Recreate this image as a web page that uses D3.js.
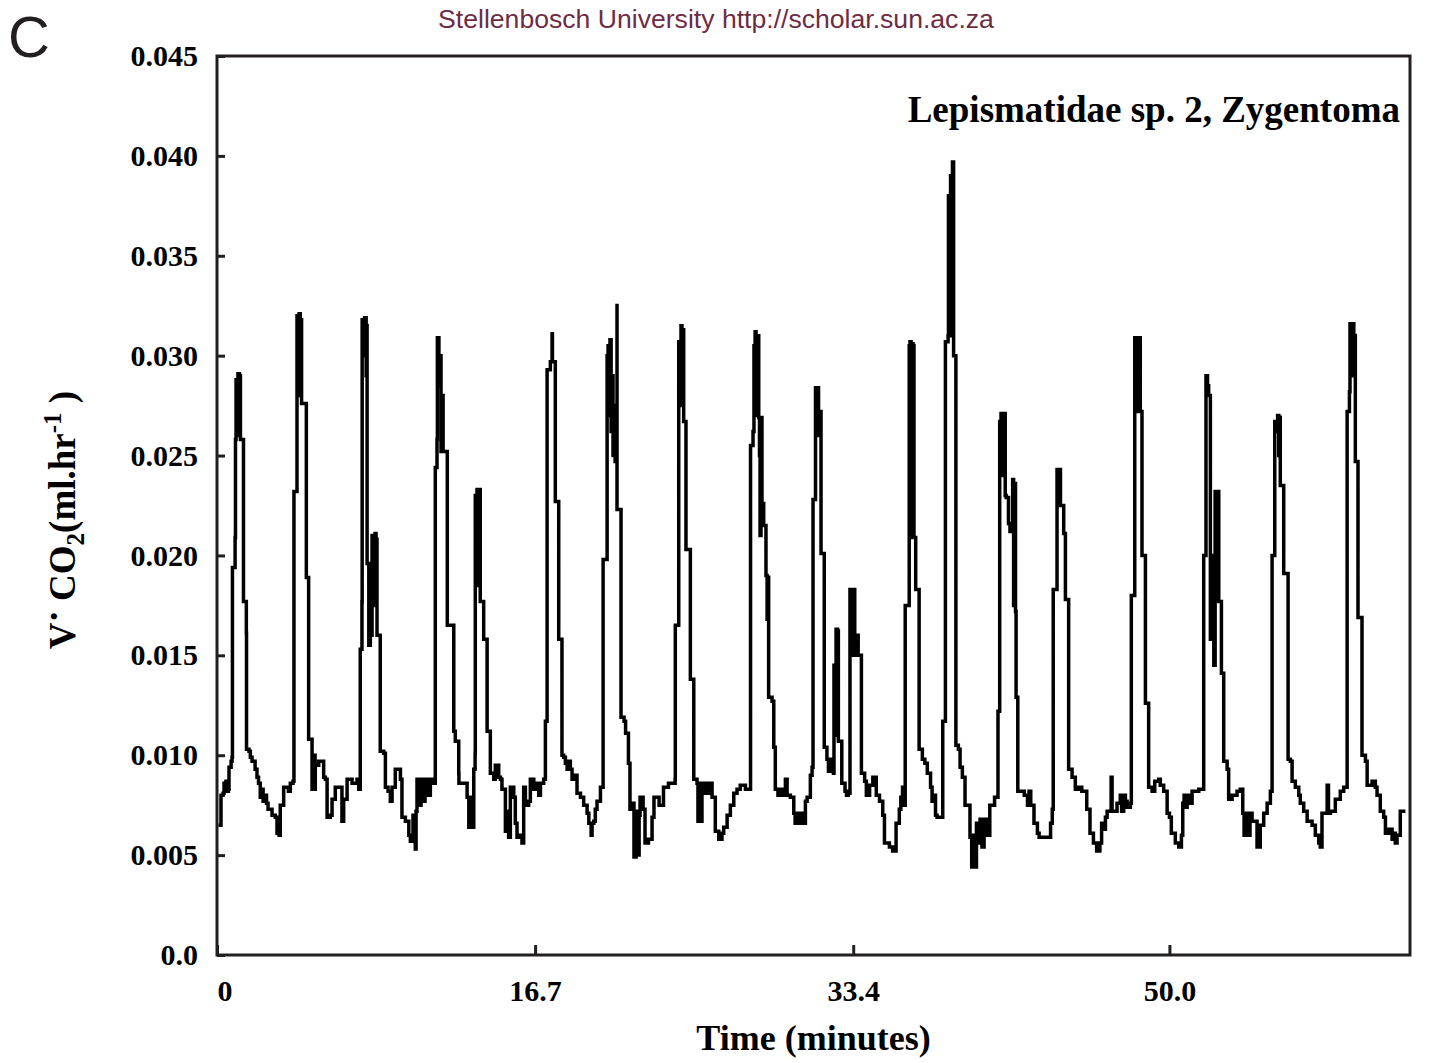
<!DOCTYPE html>
<html>
<head>
<meta charset="utf-8">
<script src="https://d3js.org/d3.v7.min.js"></script>
<style>
  body { margin: 0; background: #fff; }
  svg { display: block; background: #fff; }
  .axis text { font-family: "Liberation Serif", "Times New Roman", serif; font-weight: bold; font-size: 30px; fill: #000; }
  .axis line { stroke: #231f20; stroke-width: 3; }
</style>
</head>
<body>
<svg width="1429" height="1063"></svg>
<script>
// VCO2 trace, [time (minutes), VCO2 (ml/hr)]
const trace = [
  [0.08,0.0065],[0.21,0.0065],[0.21,0.0080],[0.32,0.0081],[0.37,0.0086],[0.47,0.0087],[0.53,0.0082],[0.60,0.0083],[0.63,0.0094],[0.74,0.0097],[0.79,0.0099],[0.81,0.0194],[0.95,0.0209],[0.97,0.0258],[1.00,0.0288],[1.08,0.0260],[1.10,0.0291],[1.18,0.0262],[1.21,0.0290],[1.23,0.0258],[1.37,0.0258],[1.39,0.0177],[1.54,0.0161],[1.55,0.0103],[1.68,0.0102],[1.75,0.0099],[1.84,0.0097],[1.93,0.0097],[2.00,0.0093],[2.10,0.0089],[2.18,0.0086],[2.27,0.0079],[2.36,0.0083],[2.42,0.0077],[2.52,0.0080],[2.60,0.0076],[2.68,0.0073],[2.80,0.0073],[2.89,0.0070],[3.06,0.0069],[3.15,0.0061],[3.26,0.0060],[3.32,0.0075],[3.50,0.0084],[3.68,0.0084],[3.75,0.0082],[3.85,0.0086],[3.99,0.0087],
  [4.03,0.0087],[4.04,0.0232],[4.20,0.0252],[4.20,0.0320],[4.28,0.0285],[4.31,0.0321],[4.37,0.0280],[4.41,0.0318],[4.44,0.0276],[4.69,0.0275],[4.69,0.0189],[4.81,0.0184],[4.81,0.0108],[4.99,0.0105],[4.99,0.0083],[5.07,0.0100],[5.15,0.0083],[5.16,0.0095],[5.34,0.0097],[5.51,0.0097],[5.60,0.0089],[5.69,0.0088],[5.78,0.0069],[5.95,0.0070],[6.04,0.0078],[6.21,0.0084],[6.30,0.0084],[6.56,0.0067],[6.65,0.0078],[6.83,0.0088],[7.09,0.0086],[7.35,0.0088],[7.44,0.0083],[7.52,0.0083],
  [7.52,0.0153],[7.61,0.0177],[7.62,0.0318],[7.70,0.0300],[7.75,0.0319],[7.83,0.0290],[7.88,0.0316],[7.88,0.0196],[7.97,0.0185],[7.97,0.0155],[8.05,0.0190],[8.05,0.0160],[8.14,0.0210],[8.19,0.0175],[8.30,0.0211],[8.35,0.0178],[8.40,0.0209],[8.40,0.0160],[8.57,0.0148],[8.57,0.0102],[8.75,0.0101],[8.84,0.0084],[8.98,0.0082],[9.10,0.0077],[9.19,0.0084],[9.36,0.0093],[9.54,0.0093],[9.63,0.0088],[9.71,0.0069],[9.89,0.0067],[10.07,0.0060],[10.15,0.0057],[10.29,0.0070],[10.41,0.0053],[10.45,0.0072],[10.50,0.0088],[10.61,0.0075],[10.71,0.0088],[10.82,0.0077],[10.92,0.0088],[11.03,0.0080],[11.20,0.0088],[11.34,0.0086],[11.46,0.0088],
  [11.46,0.0244],[11.55,0.0258],[11.57,0.0309],[11.65,0.0285],[11.71,0.0300],[11.76,0.0252],[11.81,0.0280],[11.87,0.0252],[12.09,0.0223],[12.09,0.0165],[12.43,0.0155],[12.43,0.0112],[12.51,0.0107],[12.69,0.0091],[12.70,0.0086],[12.96,0.0086],[13.13,0.0086],[13.13,0.0079],[13.22,0.0064],[13.30,0.0079],[13.39,0.0064],[13.48,0.0093],[13.55,0.0101],
  [13.56,0.0230],[13.65,0.0233],[13.70,0.0185],[13.76,0.0233],[13.82,0.0177],[14.00,0.0175],[14.00,0.0158],[14.18,0.0155],[14.18,0.0112],[14.35,0.0107],[14.35,0.0091],[14.53,0.0088],[14.61,0.0095],[14.79,0.0089],[14.88,0.0088],[14.96,0.0083],[15.14,0.0083],[15.14,0.0062],[15.23,0.0072],[15.31,0.0059],[15.40,0.0084],[15.58,0.0079],[15.66,0.0066],[15.75,0.0059],[15.93,0.0060],[16.01,0.0056],[16.10,0.0084],[16.19,0.0075],[16.36,0.0077],[16.45,0.0088],[16.63,0.0083],[16.71,0.0086],[16.89,0.0080],[16.98,0.0086],[17.15,0.0088],
  [17.24,0.0117],[17.33,0.0125],[17.33,0.0293],[17.50,0.0297],[17.59,0.0311],[17.61,0.0297],[17.68,0.0297],[17.76,0.0295],[17.76,0.0227],[17.94,0.0222],[17.94,0.0158],[18.11,0.0149],[18.11,0.0100],[18.20,0.0099],[18.29,0.0096],[18.38,0.0093],[18.43,0.0097],[18.55,0.0093],[18.64,0.0088],[18.81,0.0090],[18.90,0.0081],[19.08,0.0079],[19.25,0.0075],[19.43,0.0071],[19.52,0.0066],[19.60,0.0066],[19.64,0.0060],[19.69,0.0066],[19.78,0.0067],[19.86,0.0073],[19.95,0.0077],[20.13,0.0084],[20.27,0.0086],
  [20.27,0.0198],[20.48,0.0217],[20.48,0.0300],[20.53,0.0305],[20.58,0.0270],[20.63,0.0308],[20.69,0.0262],[20.74,0.0290],[20.79,0.0250],[20.84,0.0275],[20.90,0.0247],[21.00,0.0326],[21.00,0.0223],[21.21,0.0201],[21.21,0.0119],[21.37,0.0117],[21.45,0.0111],[21.60,0.0096],[21.68,0.0073],[21.84,0.0076],[21.89,0.0049],[22.00,0.0072],[22.05,0.0050],[22.16,0.0070],[22.21,0.0079],[22.37,0.0073],[22.47,0.0056],[22.65,0.0058],[22.84,0.0069],[22.94,0.0079],[23.10,0.0079],[23.21,0.0075],[23.44,0.0084],[23.70,0.0086],[23.97,0.0086],[24.05,0.0088],
  [24.06,0.0165],[24.24,0.0192],[24.24,0.0307],[24.31,0.0290],[24.36,0.0315],[24.41,0.0275],[24.47,0.0313],[24.50,0.0267],[24.62,0.0257],[24.62,0.0203],[24.85,0.0198],[24.85,0.0138],[25.03,0.0131],[25.03,0.0088],[25.20,0.0086],[25.25,0.0067],[25.33,0.0086],[25.37,0.0067],[25.46,0.0086],[25.55,0.0081],[25.73,0.0086],[25.78,0.0081],[25.90,0.0086],[25.99,0.0079],[26.16,0.0062],[26.34,0.0058],[26.51,0.0061],[26.60,0.0064],[26.78,0.0070],[26.95,0.0075],[27.13,0.0081],[27.30,0.0083],[27.47,0.0085],[27.62,0.0085],[27.74,0.0083],[28.00,0.0083],
  [28.01,0.0255],[28.14,0.0262],[28.19,0.0305],[28.25,0.0312],[28.30,0.0270],[28.35,0.0310],[28.44,0.0269],[28.48,0.0250],[28.51,0.0210],[28.56,0.0269],[28.61,0.0226],[28.70,0.0215],[28.82,0.0211],[28.82,0.0190],[28.88,0.0168],[28.96,0.0190],[28.96,0.0129],[29.14,0.0127],[29.23,0.0104],[29.31,0.0083],[29.45,0.0080],[29.56,0.0083],[29.66,0.0080],[29.84,0.0088],[29.93,0.0080],[30.10,0.0079],[30.28,0.0071],[30.35,0.0066],[30.45,0.0071],[30.56,0.0066],[30.66,0.0071],[30.80,0.0066],[30.89,0.0077],[30.98,0.0079],[31.15,0.0090],[31.24,0.0094],
  [31.29,0.0096],[31.29,0.0228],[31.42,0.0247],[31.42,0.0284],[31.50,0.0272],[31.55,0.0284],[31.58,0.0260],[31.66,0.0272],[31.71,0.0249],[31.71,0.0201],[31.88,0.0186],[31.88,0.0104],[32.02,0.0098],[32.10,0.0092],[32.18,0.0098],[32.28,0.0092],[32.36,0.0091],[32.39,0.0145],[32.45,0.0110],[32.50,0.0163],[32.58,0.0110],[32.62,0.0163],[32.62,0.0107],[32.80,0.0107],[32.80,0.0086],[32.97,0.0082],[33.05,0.0080],[33.14,0.0081],[33.23,0.0183],[33.31,0.0150],[33.39,0.0183],[33.48,0.0150],[33.55,0.0160],[33.66,0.0150],[33.83,0.0142],[33.83,0.0091],[34.00,0.0087],[34.09,0.0080],[34.26,0.0085],[34.43,0.0089],[34.61,0.0080],[34.78,0.0077],[34.95,0.0070],[35.04,0.0056],[35.30,0.0054],[35.47,0.0052],[35.65,0.0052],[35.65,0.0066],[35.82,0.0073],[35.90,0.0079],[35.99,0.0084],
  [36.04,0.0075],[36.13,0.0080],[36.13,0.0175],[36.34,0.0202],[36.34,0.0305],[36.38,0.0307],[36.44,0.0209],[36.49,0.0306],[36.54,0.0209],[36.59,0.0306],[36.59,0.0209],[36.68,0.0198],[36.68,0.0183],[36.86,0.0171],[36.86,0.0103],[37.03,0.0098],[37.16,0.0096],[37.29,0.0091],[37.46,0.0084],[37.54,0.0077],[37.68,0.0080],[37.72,0.0070],[37.80,0.0069],[38.06,0.0069],
  [38.10,0.0117],[38.24,0.0136],[38.24,0.0307],[38.38,0.0310],[38.40,0.0380],[38.48,0.0310],[38.51,0.0390],[38.59,0.0340],[38.61,0.0397],[38.67,0.0397],[38.67,0.0300],[38.79,0.0228],[38.79,0.0105],[38.92,0.0103],[39.01,0.0094],[39.13,0.0089],[39.27,0.0075],[39.53,0.0059],[39.62,0.0044],[39.69,0.0060],[39.77,0.0044],[39.87,0.0066],[39.96,0.0056],[40.06,0.0068],[40.16,0.0054],[40.27,0.0068],[40.39,0.0060],[40.57,0.0075],[40.82,0.0079],[41.00,0.0079],
  [41.00,0.0122],[41.09,0.0138],[41.09,0.0267],[41.16,0.0271],[41.21,0.0240],[41.27,0.0271],[41.38,0.0230],[41.43,0.0229],[41.55,0.0216],[41.63,0.0212],[41.69,0.0212],[41.77,0.0238],[41.82,0.0175],[41.87,0.0236],[41.92,0.0172],[41.95,0.0129],[42.04,0.0105],[42.04,0.0082],[42.38,0.0080],[42.55,0.0075],[42.63,0.0082],[42.72,0.0075],[42.89,0.0066],[43.07,0.0061],[43.16,0.0059],[43.42,0.0059],[43.76,0.0066],[43.85,0.0073],[43.90,0.0073],
  [43.90,0.0183],[44.10,0.0202],[44.10,0.0243],[44.18,0.0225],[44.23,0.0243],[44.28,0.0225],[44.36,0.0225],[44.45,0.0211],[44.54,0.0178],[44.71,0.0171],[44.71,0.0093],[44.89,0.0089],[45.06,0.0083],[45.23,0.0084],[45.40,0.0082],[45.66,0.0073],[45.83,0.0061],[46.01,0.0056],[46.18,0.0052],[46.35,0.0056],[46.44,0.0066],
  [46.46,0.0063],[46.64,0.0069],[46.73,0.0072],[46.90,0.0072],[46.94,0.0089],[46.99,0.0072],[47.08,0.0072],[47.25,0.0076],[47.42,0.0080],[47.49,0.0072],[47.60,0.0080],[47.69,0.0077],[47.78,0.0074],[47.95,0.0076],[48.00,0.0076],
  [48.00,0.0180],[48.18,0.0202],[48.18,0.0309],[48.25,0.0290],[48.30,0.0309],[48.35,0.0272],[48.41,0.0309],[48.47,0.0272],[48.56,0.0261],[48.56,0.0200],[48.74,0.0195],[48.74,0.0126],[48.91,0.0125],[48.91,0.0084],[49.09,0.0082],[49.23,0.0087],[49.44,0.0088],[49.52,0.0085],[49.70,0.0082],[49.88,0.0071],[50.00,0.0069],[50.10,0.0061],[50.31,0.0056],[50.49,0.0054],[50.63,0.0060],[50.70,0.0076],[50.77,0.0080],[50.85,0.0074],[50.93,0.0080],[51.01,0.0080],[51.08,0.0076],[51.19,0.0082],[51.36,0.0082],[51.54,0.0083],[51.80,0.0083],
  [51.80,0.0200],[51.92,0.0217],[51.92,0.0290],[52.00,0.0285],[52.06,0.0280],[52.15,0.0279],[52.15,0.0158],[52.21,0.0200],[52.26,0.0158],[52.33,0.0180],[52.33,0.0145],[52.40,0.0232],[52.45,0.0178],[52.50,0.0232],[52.59,0.0177],[52.73,0.0174],[52.73,0.0141],[52.85,0.0135],[52.85,0.0097],[53.03,0.0093],[53.11,0.0078],[53.29,0.0080],[53.55,0.0082],[53.72,0.0083],[53.85,0.0071],[53.92,0.0060],[54.02,0.0071],[54.13,0.0060],[54.23,0.0071],[54.34,0.0067],[54.60,0.0054],[54.77,0.0065],[54.95,0.0071],[55.13,0.0076],[55.30,0.0082],[55.39,0.0082],
  [55.39,0.0200],[55.53,0.0213],[55.53,0.0267],[55.60,0.0262],[55.68,0.0270],[55.74,0.0250],[55.82,0.0270],[55.82,0.0235],[56.00,0.0232],[56.00,0.0191],[56.23,0.0184],[56.23,0.0098],[56.35,0.0097],[56.44,0.0087],[56.61,0.0084],[56.79,0.0080],[56.87,0.0076],[57.05,0.0072],[57.23,0.0067],[57.49,0.0065],[57.66,0.0060],[57.84,0.0056],[57.92,0.0054],[58.01,0.0071],[58.19,0.0071],[58.28,0.0085],[58.35,0.0071],[58.45,0.0072],[58.71,0.0078],[58.97,0.0082],[59.15,0.0084],[59.33,0.0088],
  [59.33,0.0272],[59.45,0.0282],[59.48,0.0316],[59.56,0.0290],[59.61,0.0316],[59.68,0.0300],[59.76,0.0311],[59.76,0.0247],[59.90,0.0241],[59.90,0.0169],[60.11,0.0161],[60.11,0.0100],[60.29,0.0097],[60.38,0.0085],[60.64,0.0087],[60.81,0.0084],[60.90,0.0080],[61.07,0.0072],[61.25,0.0069],[61.34,0.0061],[61.51,0.0063],[61.69,0.0058],[61.78,0.0061],[61.86,0.0056],[61.95,0.0060],[62.12,0.0072],[62.39,0.0072]
];

const yTicks = [0, 0.005, 0.010, 0.015, 0.020, 0.025, 0.030, 0.035, 0.040, 0.045];
const xTickValues = [0, 16.7, 33.4, 50.0];
const xTickLabels = ["0", "16.7", "33.4", "50.0"];
const xMax = 62.63;   // end of recording, minutes

const svg = d3.select("svg"),
    margin = {top: 56, right: 19, bottom: 108, left: 217},
    width = 1429 - margin.left - margin.right,
    height = 1063 - margin.top - margin.bottom,
    g = svg.append("g").attr("transform", "translate(" + margin.left + "," + margin.top + ")");

const x = d3.scaleLinear().domain([0, xMax]).range([0, width]);
const y = d3.scaleLinear().domain([0, 0.045]).range([height, 0]);

// y axis, ticks pointing inward
const yAxis = g.append("g")
    .attr("class", "axis axis--y")
    .call(d3.axisLeft(y)
        .tickValues(yTicks)
        .tickSize(-8)
        .tickPadding(19)
        .tickFormat(d => d === 0 ? "0.0" : d3.format(".3f")(d)));
yAxis.select(".domain").remove();

// x axis
const xAxis = g.append("g")
    .attr("class", "axis axis--x")
    .attr("transform", "translate(0," + height + ")")
    .call(d3.axisBottom(x)
        .tickValues(xTickValues)
        .tickSize(-10)
        .tickPadding(25)
        .tickFormat((d, i) => xTickLabels[i]));
xAxis.select(".domain").remove();
xAxis.selectAll(".tick").filter(d => d === 0).select("text").attr("text-anchor", "start");

// frame
g.append("rect")
    .attr("width", width)
    .attr("height", height)
    .attr("fill", "none")
    .attr("stroke", "#231f20")
    .attr("stroke-width", 3);

// the recorder holds each reading until the next one -> step line
const line = d3.line()
    .x(d => x(d[0]))
    .y(d => y(d[1]))
    .curve(d3.curveStepAfter);

g.append("path")
    .datum(trace)
    .attr("d", line)
    .attr("fill", "none")
    .attr("stroke", "#000")
    .attr("stroke-width", 3.5);

// species label
g.append("text")
    .attr("x", width - 10)
    .attr("y", 66)
    .attr("text-anchor", "end")
    .style("font-family", "'Liberation Serif', 'Times New Roman', serif")
    .style("font-weight", "bold")
    .style("font-size", "37px")
    .text("Lepismatidae sp. 2, Zygentoma");

// axis titles
svg.append("text")
    .attr("x", margin.left + width / 2)
    .attr("y", 1050)
    .attr("text-anchor", "middle")
    .style("font-family", "'Liberation Serif', 'Times New Roman', serif")
    .style("font-weight", "bold")
    .style("font-size", "36px")
    .text("Time (minutes)");

const yTitle = svg.append("text")
    .attr("transform", "translate(75,520) rotate(-90)")
    .attr("text-anchor", "middle")
    .style("font-family", "'Liberation Serif', 'Times New Roman', serif")
    .style("font-weight", "bold")
    .style("font-size", "37px");
yTitle.append("tspan").text("V");
yTitle.append("tspan").attr("dy", -8).text("\u00B7");
yTitle.append("tspan").attr("dy", 8).text(" CO");
yTitle.append("tspan").attr("dy", 9).style("font-size", "25px").text("2");
yTitle.append("tspan").attr("dy", -9).text("(ml.hr");
yTitle.append("tspan").attr("dy", -14).style("font-size", "25px").text("-1");
yTitle.append("tspan").attr("dy", 14).text(" )");

// page header and panel letter
svg.append("text")
    .attr("x", 716)
    .attr("y", 28)
    .attr("text-anchor", "middle")
    .style("font-family", "'Liberation Sans', Arial, sans-serif")
    .style("font-size", "26.6px")
    .attr("fill", "#6e2c44")
    .text("Stellenbosch University http://scholar.sun.ac.za");

svg.append("text")
    .attr("x", 8)
    .attr("y", 57)
    .style("font-family", "'Liberation Sans', Arial, sans-serif")
    .style("font-size", "58px")
    .attr("fill", "#231f20")
    .text("C");
</script>
</body>
</html>
